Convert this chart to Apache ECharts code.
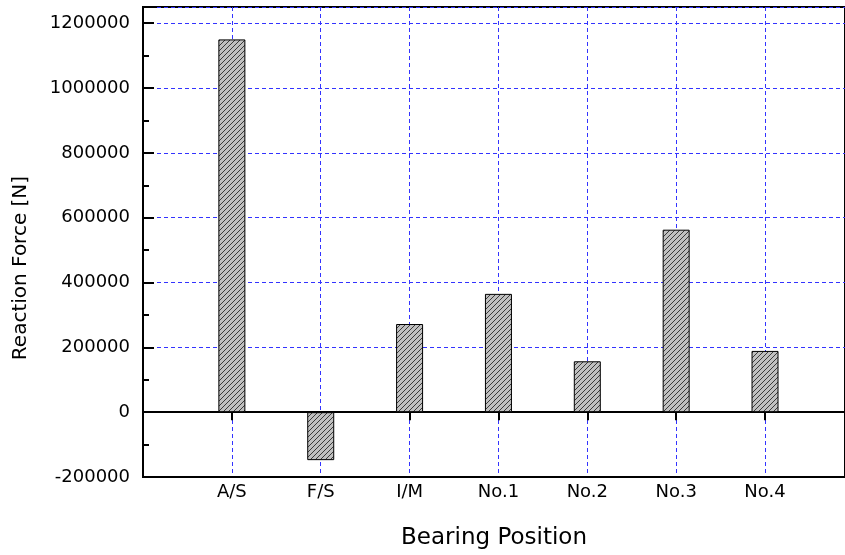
<!DOCTYPE html>
<html>
<head>
    <meta charset="utf-8">
    <title>Reaction Force by Bearing Position</title>
    <script src="https://cdn.jsdelivr.net/npm/echarts@6/dist/echarts.min.js"></script>
</head>
<body style="margin:0;background:#fff;">
  <div id="main" style="width:845px;height:555px;"></div>

<script type="text/javascript">

// bearing positions and reaction forces [N]
var categories = ['A/S', 'F/S', 'I/M', 'No.1', 'No.2', 'No.3', 'No.4'];
var forces = [1150000, -148000, 272000, 365000, 157000, 563000, 189000];
var yTicks = [-200000, 0, 200000, 400000, 600000, 800000, 1000000, 1200000];

// hatch pattern for the bars
function makeHatch() {
    var c = document.createElement('canvas');
    c.width = 5; c.height = 5;
    var ctx = c.getContext('2d');
    ctx.fillStyle = '#c0c0c0';
    ctx.fillRect(0, 0, 5, 5);
    ctx.strokeStyle = '#3a3a3a';
    ctx.lineWidth = 1;
    ctx.beginPath();
    ctx.moveTo(-1, 6); ctx.lineTo(6, -1);
    ctx.moveTo(-1, 1); ctx.lineTo(1, -1);
    ctx.moveTo(4, 6); ctx.lineTo(6, 4);
    ctx.stroke();
    return c;
}

var barData = forces.map(function (v, i) { return [i + 1, v]; });
var font = 'DejaVu Sans';
var gridColor = '#3333ff';

var myChart = echarts.init(document.getElementById('main'));

myChart.setOption({
    animation: false,
    grid: {
        left: 143, top: 7, right: 0, bottom: 77,
        show: true,
        borderColor: '#000',
        borderWidth: 2
    },
    xAxis: [{
        type: 'value',
        min: 0, max: 7.9, interval: 1,
        position: 'bottom',
        name: 'Bearing Position',
        nameLocation: 'middle',
        nameGap: 50,
        nameTextStyle: { fontFamily: font, fontSize: 23, color: '#000' },
        axisLine: { onZero: false, lineStyle: { color: '#000', width: 2 } },
        axisTick: { show: false },
        axisLabel: {
            margin: 6,
            fontFamily: font, fontSize: 18, color: '#000',
            showMinLabel: false, showMaxLabel: false,
            formatter: function (v) { return categories[v - 1] || ''; }
        },
        splitLine: { show: true, lineStyle: { color: gridColor, type: [4, 3], width: 1 } }
    }, {
        type: 'value',
        min: 0, max: 7.9, interval: 1,
        position: 'bottom',
        axisLine: { onZero: true, lineStyle: { color: '#000', width: 2 } },
        axisTick: { show: true, length: 8, lineStyle: { color: '#000', width: 2 } },
        axisLabel: { show: false },
        splitLine: { show: false }
    }],
    yAxis: [{
        type: 'value',
        min: yTicks[0], max: 1250000, interval: 200000,
        name: 'Reaction Force [N]',
        nameLocation: 'middle',
        nameGap: 112,
        nameTextStyle: { fontFamily: font, fontSize: 20, color: '#000', padding: [0, 52, 0, 0] },
        axisLine: { lineStyle: { color: '#000', width: 2 } },
        axisTick: { inside: true, length: 11, lineStyle: { color: '#000', width: 2 } },
        axisLabel: {
            margin: 13,
            fontFamily: font, fontSize: 18, color: '#000',
            formatter: function (v) { return yTicks.indexOf(v) >= 0 ? String(v) : ''; }
        },
        splitLine: { show: true, lineStyle: { color: gridColor, type: [4, 3], width: 1 } }
    }, {
        type: 'value',
        min: yTicks[0], max: 1250000, interval: 100000,
        position: 'left',
        axisLine: { show: false },
        axisTick: { inside: true, length: 6, lineStyle: { color: '#000', width: 2 } },
        axisLabel: { show: false },
        splitLine: { show: false }
    }],
    series: [{
        type: 'bar',
        xAxisIndex: 0,
        yAxisIndex: 0,
        barWidth: 27,
        data: barData,
        itemStyle: {
            color: { image: makeHatch(), repeat: 'repeat' },
            borderColor: '#000',
            borderWidth: 1
        }
    }]
});
</script>
</body>
</html>
